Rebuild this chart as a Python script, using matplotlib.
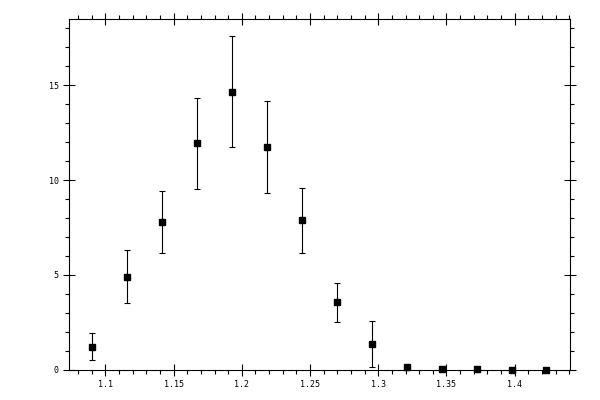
import matplotlib
matplotlib.use("Agg")
import matplotlib.pyplot as plt
from matplotlib.ticker import MultipleLocator, FormatStrFormatter

x = [1.0905, 1.1161, 1.1417, 1.1673, 1.1929, 1.2186, 1.2442,
     1.2698, 1.2954, 1.3210, 1.3464, 1.3720, 1.3978, 1.4231]
y = [1.20, 4.87, 7.77, 11.94, 14.63, 11.73, 7.88,
     3.57, 1.34, 0.13, 0.02, 0.02, 0.0, 0.0]
err_lo = [0.70, 1.37, 1.63, 2.43, 2.88, 2.43, 1.73,
          1.07, 1.21, 0.0, 0.0, 0.0, 0.0, 0.0]
err_hi = [0.72, 1.43, 1.64, 2.41, 2.95, 2.43, 1.70,
          0.99, 1.21, 0.0, 0.0, 0.0, 0.0, 0.0]

fig = plt.figure(figsize=(6, 4), dpi=100)
ax = fig.add_axes([0.1155, 0.0758, 0.8345, 0.876])

ax.errorbar(x, y, yerr=[err_lo, err_hi], fmt='s', color='black',
            markersize=5, elinewidth=0.8, capsize=2, capthick=0.8,
            clip_on=False)

ax.set_xlim(1.0736, 1.4405)
ax.set_ylim(0, 18.48)

ax.xaxis.set_major_locator(MultipleLocator(0.05))
ax.xaxis.set_minor_locator(MultipleLocator(0.01))
ax.yaxis.set_major_locator(MultipleLocator(5))
ax.yaxis.set_minor_locator(MultipleLocator(1))
ax.xaxis.set_major_formatter(FormatStrFormatter('%g'))
ax.yaxis.set_major_formatter(FormatStrFormatter('%g'))

for s in ax.spines.values():
    s.set_linewidth(0.8)

ax.tick_params(which='both', top=True, right=True, width=0.8,
               labelsize=6, colors='black')
ax.tick_params(which='major', direction='inout', length=9, pad=3)
ax.tick_params(which='minor', direction='out', length=3)
for lab in ax.get_xticklabels() + ax.get_yticklabels():
    lab.set_family('DejaVu Sans Mono')

plt.savefig('out.png', dpi=100)
